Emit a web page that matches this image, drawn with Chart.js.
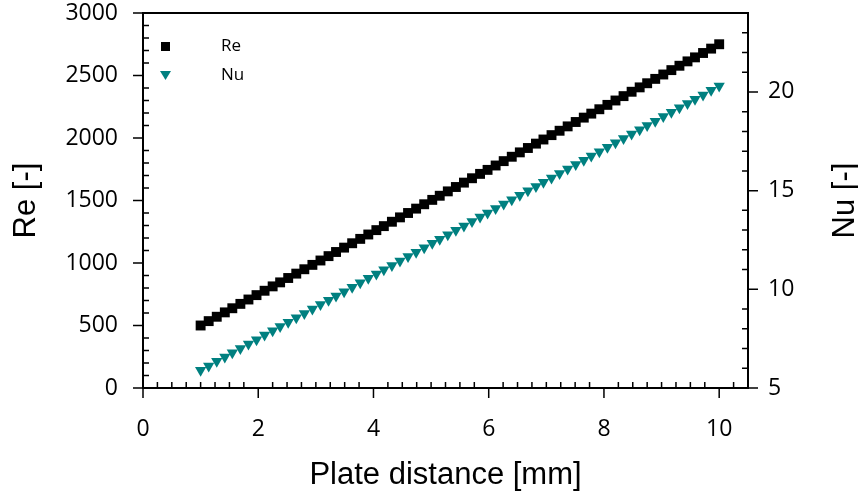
<!DOCTYPE html>
<html>
<head>
<meta charset="utf-8">
<script src="https://cdn.jsdelivr.net/npm/chart.js@4/dist/chart.umd.min.js"></script>
<style>
  html, body { margin: 0; padding: 0; background: #fff; }
  #wrap { width: 858px; height: 493px; }
</style>
</head>
<body>
<div id="wrap"><canvas id="myChart" width="858" height="493"></canvas></div>
<script>
"use strict";

// plate distance [mm]
const distance = [1.00, 1.14, 1.28, 1.42, 1.55, 1.69, 1.83, 1.97, 2.11, 2.25, 2.38, 2.52, 2.66, 2.80, 2.94,
  3.08, 3.22, 3.35, 3.49, 3.63, 3.77, 3.91, 4.05, 4.18, 4.32, 4.46, 4.60, 4.74, 4.88, 5.02,
  5.15, 5.29, 5.43, 5.57, 5.71, 5.85, 5.98, 6.12, 6.26, 6.40, 6.54, 6.68, 6.82, 6.95, 7.09,
  7.23, 7.37, 7.51, 7.65, 7.78, 7.92, 8.06, 8.20, 8.34, 8.48, 8.62, 8.75, 8.89, 9.03, 9.17,
  9.31, 9.45, 9.58, 9.72, 9.86, 10.00];

const reValues = [500, 535, 570, 605, 638, 673, 708, 743, 778, 813, 845, 880, 915, 950, 985,
  1020, 1055, 1088, 1123, 1158, 1193, 1228, 1263, 1295, 1330, 1365, 1400, 1435, 1470, 1505,
  1538, 1573, 1608, 1643, 1678, 1713, 1745, 1780, 1815, 1850, 1885, 1920, 1955, 1988, 2023,
  2058, 2093, 2128, 2163, 2195, 2230, 2265, 2300, 2335, 2370, 2405, 2438, 2473, 2508, 2543,
  2578, 2613, 2645, 2680, 2715, 2750];

const nuValues = [5.90, 6.12, 6.35, 6.57, 6.78, 7.00, 7.23, 7.45, 7.68, 7.90, 8.11, 8.33, 8.56, 8.78, 9.00,
  9.23, 9.45, 9.66, 9.88, 10.11, 10.33, 10.56, 10.78, 10.99, 11.21, 11.44, 11.66, 11.88, 12.11, 12.33,
  12.54, 12.76, 12.99, 13.21, 13.44, 13.66, 13.87, 14.09, 14.32, 14.54, 14.76, 14.99, 15.21, 15.42, 15.64,
  15.87, 16.09, 16.32, 16.54, 16.75, 16.97, 17.20, 17.42, 17.64, 17.87, 18.09, 18.30, 18.52, 18.75, 18.97,
  19.20, 19.42, 19.63, 19.85, 20.08, 20.30];

// tick labels
const xTicks = [0, 2, 4, 6, 8, 10];
const reTicks = [0, 500, 1000, 1500, 2000, 2500, 3000];
const nuTicks = [5, 10, 15, 20];

const teal = "#008080";
const tickFont = { family: "'Open Sans'", size: 23 };

function pts(xs, ys) {
  return xs.map(function (x, i) { return { x: x, y: ys[i] }; });
}
function plain(v) { return String(v); }

// frame, inward minor ticks, outward major ticks, titles, legend
const framePlugin = {
  id: "frame",
  afterDraw: function (chart) {
    const c = chart.ctx;
    const a = chart.chartArea;
    const sx = chart.scales.x, sy = chart.scales.y, sy1 = chart.scales.y1;
    c.save();
    c.strokeStyle = "#000";
    c.lineWidth = 2;
    c.beginPath();
    c.moveTo(a.left, a.top); c.lineTo(a.right, a.top);
    c.lineTo(a.right, a.bottom); c.lineTo(a.left, a.bottom); c.closePath();
    c.stroke();

    c.lineWidth = 1.5;
    c.beginPath();
    // x axis
    for (let v = 0; v <= 10.5 + 1e-9; v += 0.25) {
      const p = sx.getPixelForValue(v);
      if (Math.abs(v % 2) < 1e-9) { c.moveTo(p, a.bottom); c.lineTo(p, a.bottom + 10); }
      else { c.moveTo(p, a.bottom); c.lineTo(p, a.bottom - 6); }
    }
    // Re axis
    for (let v = 0; v <= 3000; v += 100) {
      const p = sy.getPixelForValue(v);
      if (v % 500 === 0) { c.moveTo(a.left, p); c.lineTo(a.left - 10, p); }
      else { c.moveTo(a.left, p); c.lineTo(a.left + 6, p); }
    }
    // Nu axis
    for (let v = 5; v <= 24; v += 1) {
      const p = sy1.getPixelForValue(v);
      if (v % 5 === 0) { c.moveTo(a.right, p); c.lineTo(a.right + 10, p); }
      else { c.moveTo(a.right, p); c.lineTo(a.right - 6, p); }
    }
    c.stroke();

    // axis titles
    c.fillStyle = "#000";
    c.font = "31px 'Liberation Sans'";
    c.textAlign = "center";
    c.textBaseline = "alphabetic";
    c.fillText("Plate distance [mm]", (a.left + a.right) / 2, 484);
    c.save();
    c.translate(35, (a.top + a.bottom) / 2);
    c.rotate(-Math.PI / 2);
    c.fillText("Re [-]", 0, 0);
    c.restore();
    c.save();
    c.translate(854, (a.top + a.bottom) / 2);
    c.rotate(-Math.PI / 2);
    c.fillText("Nu [-]", 0, 0);
    c.restore();

    // legend
    c.fillStyle = "#000";
    c.fillRect(161, 42, 9, 9);
    c.fillStyle = teal;
    c.beginPath();
    c.moveTo(160, 71); c.lineTo(171, 71); c.lineTo(165.5, 80); c.closePath();
    c.fill();
    c.fillStyle = "#000";
    c.font = "17px 'Open Sans'";
    c.textAlign = "left";
    c.textBaseline = "middle";
    c.fillText("Re", 221, 46);
    c.fillText("Nu", 221, 75);
    c.restore();
  }
};

const ctx = document.getElementById("myChart").getContext("2d");
new Chart(ctx, {
  type: "scatter",
  data: {
    datasets: [
      {
        label: "Re",
        data: pts(distance, reValues),
        yAxisID: "y",
        pointStyle: "rect",
        pointRadius: 7,
        pointHoverRadius: 7,
        backgroundColor: "#000",
        borderColor: "#000",
        borderWidth: 0,
        showLine: false
      },
      {
        label: "Nu",
        data: pts(distance, nuValues),
        yAxisID: "y1",
        pointStyle: "triangle",
        rotation: 180,
        pointRadius: 6.5,
        pointHoverRadius: 6.5,
        backgroundColor: teal,
        borderColor: teal,
        borderWidth: 0,
        showLine: false
      }
    ]
  },
  options: {
    responsive: false,
    animation: false,
    events: [],
    layout: { padding: { top: 13, left: 0, right: 0, bottom: 0 } },
    plugins: {
      legend: { display: false },
      tooltip: { enabled: false }
    },
    scales: {
      x: {
        type: "linear",
        min: 0,
        max: 10.5,
        afterBuildTicks: function (s) { s.ticks = xTicks.map(function (v) { return { value: v }; }); },
        afterFit: function (s) { s.height = 105; s.paddingLeft = 0; s.paddingRight = 0; },
        grid: { display: false, drawTicks: false },
        border: { display: false },
        ticks: { color: "#000", font: tickFont, padding: 28, maxRotation: 0, callback: plain }
      },
      y: {
        type: "linear",
        position: "left",
        min: 0,
        max: 3000,
        afterBuildTicks: function (s) { s.ticks = reTicks.map(function (v) { return { value: v }; }); },
        afterFit: function (s) { s.width = 143; s.paddingTop = 0; s.paddingBottom = 0; },
        grid: { display: false, drawTicks: false },
        border: { display: false },
        ticks: { color: "#000", font: tickFont, padding: 25, callback: plain }
      },
      y1: {
        type: "linear",
        position: "right",
        min: 5,
        max: 24,
        afterBuildTicks: function (s) { s.ticks = nuTicks.map(function (v) { return { value: v }; }); },
        afterFit: function (s) { s.width = 110; s.paddingTop = 0; s.paddingBottom = 0; },
        grid: { display: false, drawTicks: false },
        border: { display: false },
        ticks: { color: "#000", font: tickFont, padding: 20, callback: plain }
      }
    }
  },
  plugins: [framePlugin]
});
</script>
</body>
</html>
